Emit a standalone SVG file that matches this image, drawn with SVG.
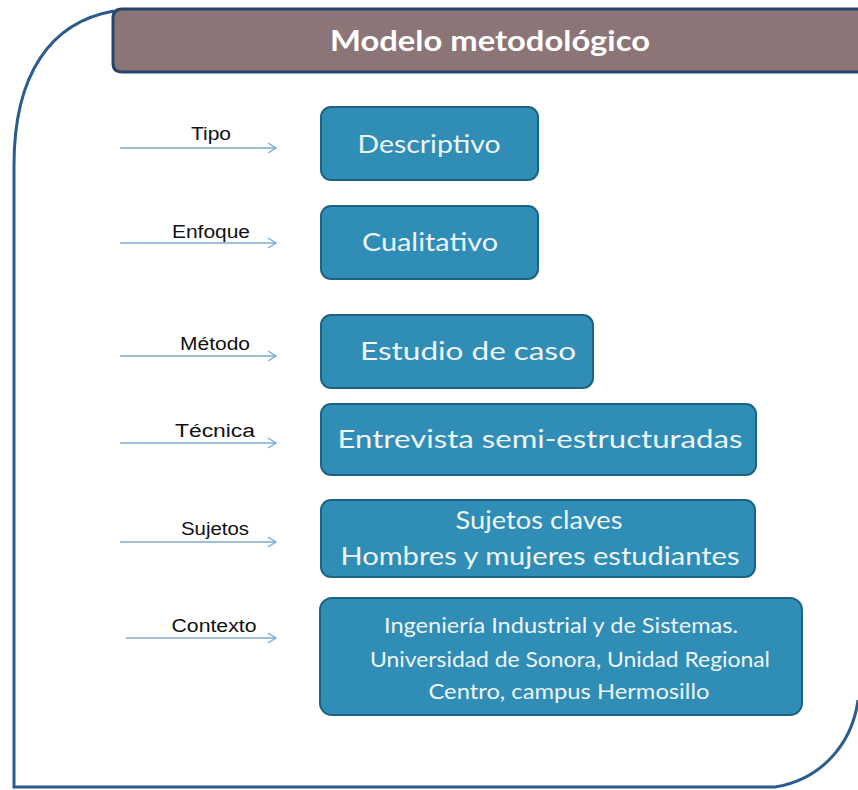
<svg xmlns="http://www.w3.org/2000/svg" width="858" height="790" viewBox="0 0 858 790">
<defs>
<style>
.frame{fill:none;stroke:#2b5c8e;stroke-width:3}
.hdr{fill:#8c7577;stroke:#26456a;stroke-width:3}
.hdrt{font-family:Lato,"Liberation Sans",sans-serif;font-weight:bold;font-size:28px;fill:#ffffff;text-anchor:middle}
.box{fill:#2f8db6;stroke:#1d6384;stroke-width:2}
.bt{font-family:Lato,"Liberation Sans",sans-serif;font-size:25px;fill:#eef5f8;text-anchor:middle}
.bt2{font-family:Lato,"Liberation Sans",sans-serif;font-size:21px;fill:#eef5f8;text-anchor:middle}
.lbl{font-family:"Liberation Sans",Arial,sans-serif;font-size:18px;fill:#111;text-anchor:middle}
.arr{fill:none;stroke:#7aaad0;stroke-width:1.3}
</style>
<marker id="ah" viewBox="0 0 10 12" refX="9" refY="6" markerWidth="10" markerHeight="12" markerUnits="userSpaceOnUse" orient="auto">
<path d="M1,1 L9,6 L1,11" fill="none" stroke="#7aaad0" stroke-width="1.3"/>
</marker>
</defs>
<rect width="858" height="790" fill="#ffffff"/>
<path class="frame" d="M114,11 C50,22 14,75 14,165 L14,787 L775,787 C820,780 852,745 858,700"/>
<g id="header">
<path class="hdr" d="M122,9 L862,9 L862,72 L122,72 Q113,72 113,63 L113,18 Q113,9 122,9 Z"/>
<text class="hdrt" x="490" y="51" textLength="320" lengthAdjust="spacingAndGlyphs">Modelo metodológico</text>
</g>
<g id="connectors">
<line class="arr" x1="120" y1="148" x2="276" y2="148" marker-end="url(#ah)"/>
<line class="arr" x1="120" y1="243" x2="276" y2="243" marker-end="url(#ah)"/>
<line class="arr" x1="120" y1="356" x2="276" y2="356" marker-end="url(#ah)"/>
<line class="arr" x1="120" y1="443" x2="276" y2="443" marker-end="url(#ah)"/>
<line class="arr" x1="120" y1="542" x2="276" y2="542" marker-end="url(#ah)"/>
<line class="arr" x1="126" y1="638" x2="276" y2="638" marker-end="url(#ah)"/>
<text class="lbl" x="211" y="140" textLength="40" lengthAdjust="spacingAndGlyphs">Tipo</text>
<text class="lbl" x="211" y="238" textLength="78" lengthAdjust="spacingAndGlyphs">Enfoque</text>
<text class="lbl" x="215" y="350" textLength="70" lengthAdjust="spacingAndGlyphs">Método</text>
<text class="lbl" x="215" y="437" textLength="80" lengthAdjust="spacingAndGlyphs">Técnica</text>
<text class="lbl" x="215" y="535" textLength="68" lengthAdjust="spacingAndGlyphs">Sujetos</text>
<text class="lbl" x="214" y="632" textLength="85" lengthAdjust="spacingAndGlyphs">Contexto</text>
</g>
<g id="n-tipo">
<rect class="box" x="321" y="107" width="217" height="73" rx="10"/>
<text class="bt" x="429" y="153" textLength="143" lengthAdjust="spacingAndGlyphs">Descriptivo</text>
</g>
<g id="n-enfoque">
<rect class="box" x="321" y="206" width="217" height="73" rx="10"/>
<text class="bt" x="430" y="251" textLength="136" lengthAdjust="spacingAndGlyphs">Cualitativo</text>
</g>
<g id="n-metodo">
<rect class="box" x="321" y="315" width="272" height="73" rx="10"/>
<text class="bt" x="468" y="360" textLength="216" lengthAdjust="spacingAndGlyphs">Estudio de caso</text>
</g>
<g id="n-tecnica">
<rect class="box" x="321" y="404" width="435" height="71" rx="10"/>
<text class="bt" x="540" y="448" textLength="405" lengthAdjust="spacingAndGlyphs">Entrevista semi-estructuradas</text>
</g>
<g id="n-sujetos">
<rect class="box" x="321" y="500" width="434" height="77" rx="10"/>
<text class="bt" x="539" y="529" textLength="167" lengthAdjust="spacingAndGlyphs">Sujetos claves</text>
<text class="bt" x="540" y="565" textLength="399" lengthAdjust="spacingAndGlyphs">Hombres y mujeres estudiantes</text>
</g>
<g id="n-contexto">
<rect class="box" x="320" y="598" width="482" height="117" rx="12"/>
<text class="bt2" x="561" y="633" textLength="354" lengthAdjust="spacingAndGlyphs">Ingeniería Industrial y de Sistemas.</text>
<text class="bt2" x="570" y="667" textLength="400" lengthAdjust="spacingAndGlyphs">Universidad de Sonora, Unidad Regional</text>
<text class="bt2" x="569" y="699" textLength="281" lengthAdjust="spacingAndGlyphs">Centro, campus Hermosillo</text>
</g>
</svg>
